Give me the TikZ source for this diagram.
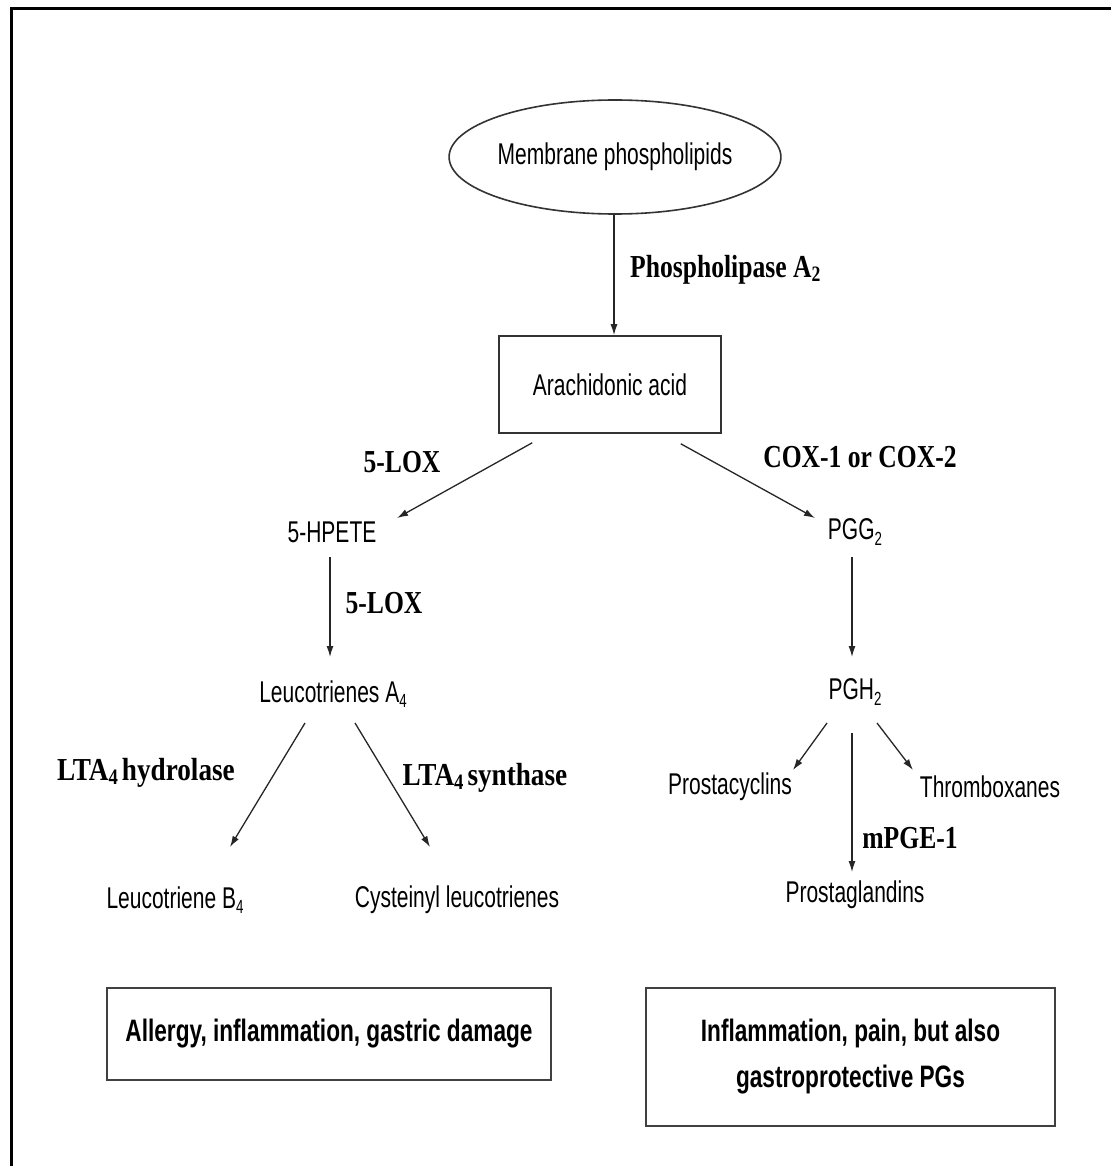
\documentclass[tikz,border=0pt]{standalone}
\usepackage{fontspec}
\usetikzlibrary{arrows.meta,shapes.geometric,calc}
\newfontfamily\nodefont[FakeStretch=0.7]{Liberation Sans}
\newfontfamily\boxfont[FakeStretch=0.73]{Liberation Sans}
\newfontfamily\labfont[FakeStretch=0.8]{Liberation Serif}
\newfontfamily\labwidefont[FakeStretch=0.85]{Liberation Serif}
\newcommand{\nsub}[1]{\raisebox{-0.35ex}{\fontsize{19}{19}\selectfont #1}}
\newcommand{\lsub}[1]{\raisebox{-0.25ex}{\fontsize{22}{22}\selectfont #1}}
\begin{document}
\begin{tikzpicture}[x=1pt,y=-1pt,
  txt/.style={font=\nodefont\fontsize{30}{34}\selectfont, inner sep=0pt, text=black},
  lab/.style={font=\labfont\bfseries\fontsize{32}{36}\selectfont, inner sep=0pt},
  labwide/.style={font=\labwidefont\bfseries\fontsize{32}{36}\selectfont, inner sep=0pt},
  arr/.style={draw=black!85, line width=1.3pt, -{Latex[length=11pt,width=7pt]}},
  shapeline/.style={draw=black!80, line width=1.6pt},
  outbox/.style={draw=black!75, line width=2.2pt, fill=white, inner sep=0pt,
    font=\boxfont\bfseries\fontsize{31}{46}\selectfont, align=center}
]
\useasboundingbox (0,0) rectangle (1111,1166);
\fill[white] (0,0) rectangle (1111,1166);
\draw[line width=3pt] (1111,9) -- (11,9) -- (11,1166);

% main nodes
\node[ellipse, shapeline, txt, minimum width=314pt, minimum height=114pt] (mem) at (615,157) {Membrane phospholipids};
\node[rectangle, shapeline, txt, minimum width=222pt, minimum height=97pt] (aa) at (610,384.5) {Arachidonic acid};
\node[txt] (hpete) at (332,532) {5-HPETE};
\node[txt] (lta4) at (333,694) {Leucotrienes A\nsub{4}};
\node[txt] (ltb4) at (175,900) {Leucotriene B\nsub{4}};
\node[txt] (cys) at (457,900) {Cysteinyl leucotrienes};
\node[txt] (pgg2) at (855,532) {PGG\nsub{2}};
\node[txt] (pgh2) at (855,692) {PGH\nsub{2}};
\node[txt] (pcyc) at (730,787) {Prostacyclins};
\node[txt] (txa) at (990,787) {Thromboxanes};
\node[txt] (pgs) at (855,895) {Prostaglandins};

% outcome boxes
\node[outbox, minimum width=444pt, minimum height=92pt] (box1) at (329,1034) {Allergy, inflammation, gastric damage};
\node[outbox, minimum width=409pt, minimum height=138pt] (box2) at (850.5,1057) {Inflammation, pain, but also\\gastroprotective PGs};

% enzyme labels
\node[lab, anchor=west] (pla2) at (630,270) {Phospholipase A\lsub{2}};
\node[lab] (lox1) at (402,462) {5-LOX};
\node[lab] (cox) at (860,457) {COX-1 or COX-2};
\node[lab] (lox2) at (384,603) {5-LOX};
\node[labwide] (hyd) at (146,773) {LTA\lsub{4}\hspace{4pt}hydrolase};
\node[labwide] (syn) at (485,778) {LTA\lsub{4}\hspace{4pt}synthase};
\node[lab] (mpge) at (910,838) {mPGE-1};

% connectors
\draw[arr] ($(mem.south)+(-1,0)$) -- ($(aa.north)+(4,0)$);
\draw[arr] ($(aa.south west)+(34,9)$) -- ($(hpete.center)+(65,-14)$);
\draw[arr] ($(aa.south east)+(-41,10)$) -- ($(pgg2.center)+(-40,-14)$);
\draw[arr] ($(hpete.center)+(-2,25)$) -- ($(lta4.center)+(-3,-37)$);
\draw[arr] ($(pgg2.center)+(-3,25)$) -- ($(pgh2.center)+(-3,-35)$);
\draw[arr] ($(lta4.center)+(-28,29)$) -- ($(ltb4.center)+(55,-53)$);
\draw[arr] ($(lta4.center)+(22,29)$) -- ($(cys.center)+(-27,-53)$);
\draw[arr] ($(pgh2.center)+(-28,31)$) -- ($(pcyc.center)+(63,-17)$);
\draw[arr] ($(pgh2.center)+(22,31)$) -- ($(txa.center)+(-77,-17)$);
\draw[arr] ($(pgh2.center)+(-3,41)$) -- ($(pgs.center)+(-3,-23)$);
\end{tikzpicture}
\end{document}
